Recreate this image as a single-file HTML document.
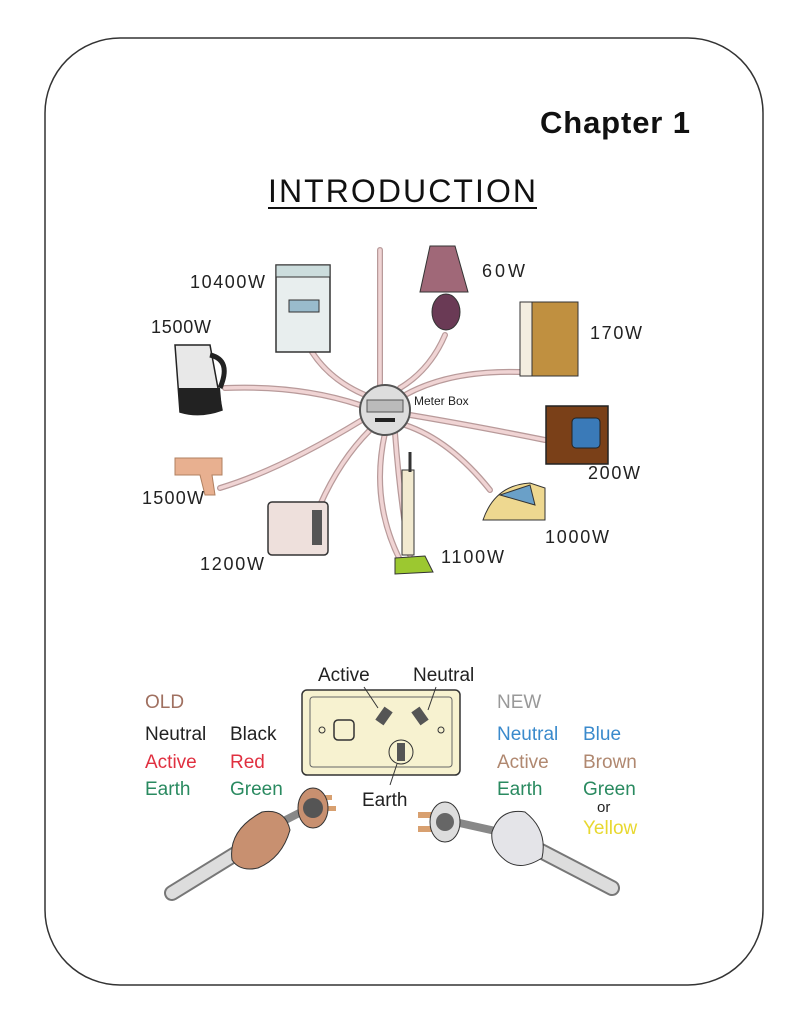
<!DOCTYPE html>
<html><head><meta charset="utf-8"><style>
body{margin:0;background:#fff;width:812px;height:1024px;overflow:hidden}
svg{display:block}
text{font-family:"Liberation Sans",sans-serif}
</style></head><body>
<svg width="812" height="1024" viewBox="0 0 812 1024">
<rect x="45" y="38" width="718" height="947" rx="75" fill="#fff" stroke="#333" stroke-width="1.5"/>
<text x="540" y="133" font-size="31" font-weight="bold" fill="#111" textLength="150">Chapter 1</text>
<text x="268" y="202" font-size="32" fill="#111" textLength="268">INTRODUCTION</text>
<line x1="268" y1="208" x2="537" y2="208" stroke="#111" stroke-width="2"/>
<!-- wires -->
<g fill="none" stroke="#b89a9a" stroke-width="6" stroke-linecap="round">
<path d="M380 250 V385"/>
<path d="M312 352 Q330 380 365 395"/>
<path d="M445 335 Q430 370 400 388"/>
<path d="M520 372 Q450 370 405 395"/>
<path d="M225 388 Q300 385 360 405"/>
<path d="M545 440 Q470 425 410 415"/>
<path d="M220 488 Q280 470 362 420"/>
<path d="M490 490 Q450 440 405 425"/>
<path d="M320 505 Q340 460 370 430"/>
<path d="M400 560 Q370 500 385 433"/>
<path d="M410 555 Q400 500 395 433"/>
</g>
<g fill="none" stroke="#f0d4d4" stroke-width="3.5" stroke-linecap="round">
<path d="M380 250 V385"/>
<path d="M312 352 Q330 380 365 395"/>
<path d="M445 335 Q430 370 400 388"/>
<path d="M520 372 Q450 370 405 395"/>
<path d="M225 388 Q300 385 360 405"/>
<path d="M545 440 Q470 425 410 415"/>
<path d="M220 488 Q280 470 362 420"/>
<path d="M490 490 Q450 440 405 425"/>
<path d="M320 505 Q340 460 370 430"/>
<path d="M400 560 Q370 500 385 433"/>
<path d="M410 555 Q400 500 395 433"/>
</g>
<!-- meter -->
<circle cx="385" cy="410" r="25" fill="#ddd" stroke="#555" stroke-width="2"/>
<rect x="367" y="400" width="36" height="12" fill="#bbb" stroke="#555"/>
<rect x="375" y="418" width="20" height="4" fill="#222"/>
<text x="414" y="405" font-size="12" fill="#222">Meter Box</text>
<!-- stove -->
<rect x="276" y="265" width="54" height="87" fill="#e8eeee" stroke="#333" stroke-width="1.5"/>
<rect x="276" y="265" width="54" height="12" fill="#cdd" stroke="#333"/>
<rect x="289" y="300" width="30" height="12" fill="#9bc" stroke="#333"/>
<!-- lamp -->
<path d="M430 246 H455 L468 292 H420 Z" fill="#a06878" stroke="#333"/>
<ellipse cx="446" cy="312" rx="14" ry="18" fill="#6a3a55" stroke="#333"/>
<!-- fridge -->
<rect x="520" y="302" width="58" height="74" fill="#c09040" stroke="#333"/>
<rect x="520" y="302" width="12" height="74" fill="#f4eee0" stroke="#333"/>
<!-- kettle -->
<path d="M175 345 L210 345 L222 410 Q200 418 180 412 Z" fill="#e8e8e8" stroke="#222" stroke-width="1.5"/>
<path d="M178 388 L220 388 L222 410 Q200 418 180 412 Z" fill="#222"/>
<path d="M210 355 Q232 360 220 388" fill="none" stroke="#222" stroke-width="5"/>
<!-- TV -->
<rect x="546" y="406" width="62" height="58" fill="#7a4018" stroke="#222" stroke-width="1.5"/>
<rect x="572" y="418" width="28" height="30" rx="4" fill="#3a7ab8" stroke="#222"/>
<!-- hair dryer -->
<path d="M175 458 H222 V475 H212 L215 495 H205 L200 475 H175 Z" fill="#e8b090" stroke="#b08060"/>
<!-- iron -->
<path d="M483 520 Q495 485 530 483 L545 488 L545 520 Z" fill="#eed890" stroke="#333"/>
<path d="M500 495 L530 485 L535 505 Z" fill="#6aa0c8" stroke="#333"/>
<!-- toaster -->
<rect x="268" y="502" width="60" height="53" rx="4" fill="#eee0dc" stroke="#333" stroke-width="1.5"/>
<rect x="312" y="510" width="10" height="35" fill="#555"/>
<!-- vacuum -->
<rect x="402" y="470" width="12" height="85" fill="#f2ead0" stroke="#333"/>
<line x1="410" y1="452" x2="410" y2="472" stroke="#333" stroke-width="3"/>
<path d="M395 558 L425 556 L433 572 L395 574 Z" fill="#9cc830" stroke="#333"/>
<g font-size="18" fill="#222">
<text x="190" y="288" textLength="75">10400W</text>
<text x="482" y="277" textLength="43">60W</text>
<text x="151" y="333" textLength="60">1500W</text>
<text x="590" y="339" textLength="52">170W</text>
<text x="588" y="479" textLength="52">200W</text>
<text x="142" y="504" textLength="62">1500W</text>
<text x="545" y="543" textLength="64">1000W</text>
<text x="200" y="570" textLength="64">1200W</text>
<text x="441" y="563" textLength="63">1100W</text>
</g>
<!-- socket -->
<rect x="302" y="690" width="158" height="85" rx="5" fill="#f7f2d0" stroke="#333" stroke-width="1.5"/>
<rect x="310" y="697" width="142" height="70" rx="3" fill="none" stroke="#666"/>
<circle cx="322" cy="730" r="3" fill="none" stroke="#333"/>
<circle cx="441" cy="730" r="3" fill="none" stroke="#333"/>
<rect x="334" y="720" width="20" height="20" rx="4" fill="none" stroke="#333" stroke-width="1.5"/>
<rect x="379" y="708" width="10" height="16" fill="#555" transform="rotate(35 384 716)"/>
<rect x="415" y="708" width="10" height="16" fill="#555" transform="rotate(-35 420 716)"/>
<circle cx="401" cy="752" r="12" fill="none" stroke="#333"/>
<rect x="397" y="743" width="8" height="18" fill="#555"/>
<line x1="364" y1="687" x2="378" y2="708" stroke="#333"/>
<line x1="436" y1="687" x2="428" y2="710" stroke="#333"/>
<line x1="397" y1="764" x2="390" y2="785" stroke="#333"/>
<g font-size="19">
<text x="318" y="681" fill="#222">Active</text>
<text x="413" y="681" fill="#222">Neutral</text>
<text x="362" y="806" fill="#222">Earth</text>
<text x="145" y="708" fill="#a07060">OLD</text>
<text x="145" y="740" fill="#222">Neutral</text>
<text x="230" y="740" fill="#222">Black</text>
<text x="145" y="768" fill="#e03040">Active</text>
<text x="230" y="768" fill="#e03040">Red</text>
<text x="145" y="795" fill="#2a8a60">Earth</text>
<text x="230" y="795" fill="#2a8a60">Green</text>
<text x="497" y="708" fill="#999">NEW</text>
<text x="497" y="740" fill="#3a8acc">Neutral</text>
<text x="583" y="740" fill="#3a8acc">Blue</text>
<text x="497" y="768" fill="#b08870">Active</text>
<text x="583" y="768" fill="#b08870">Brown</text>
<text x="497" y="795" fill="#2a8a60">Earth</text>
<text x="583" y="795" fill="#2a8a60">Green</text>
<text x="597" y="812" fill="#222" font-size="15">or</text>
<text x="583" y="834" fill="#e8d830">Yellow</text>
</g>
<!-- old plug -->
<path d="M172 893 L245 848" stroke="#777" stroke-width="16" fill="none" stroke-linecap="round"/>
<path d="M172 893 L245 848" stroke="#ddd" stroke-width="12" fill="none" stroke-linecap="round"/>
<line x1="270" y1="828" x2="305" y2="810" stroke="#888" stroke-width="8"/>
<path d="M232 860 Q228 830 262 812 Q285 808 290 830 Q282 858 258 868 Q240 872 232 860 Z" fill="#c89070" stroke="#333"/>
<rect x="318" y="795" width="14" height="5" fill="#d8a070"/>
<rect x="322" y="806" width="14" height="5" fill="#d8a070"/>
<ellipse cx="313" cy="808" rx="15" ry="20" fill="#c89070" stroke="#333"/>
<circle cx="313" cy="808" r="10" fill="#555"/>
<!-- new plug -->
<path d="M612 888 L535 848" stroke="#777" stroke-width="16" fill="none" stroke-linecap="round"/>
<path d="M612 888 L535 848" stroke="#ddd" stroke-width="12" fill="none" stroke-linecap="round"/>
<line x1="500" y1="832" x2="455" y2="822" stroke="#888" stroke-width="8"/>
<path d="M492 832 Q500 808 525 812 Q548 830 542 858 Q520 872 505 860 Q490 848 492 832 Z" fill="#e4e4e8" stroke="#333"/>
<rect x="418" y="812" width="14" height="6" fill="#d8a070"/>
<rect x="418" y="826" width="14" height="6" fill="#d8a070"/>
<ellipse cx="445" cy="822" rx="15" ry="20" fill="#ddd" stroke="#333"/>
<circle cx="445" cy="822" r="9" fill="#666"/>
</svg>
</body></html>
